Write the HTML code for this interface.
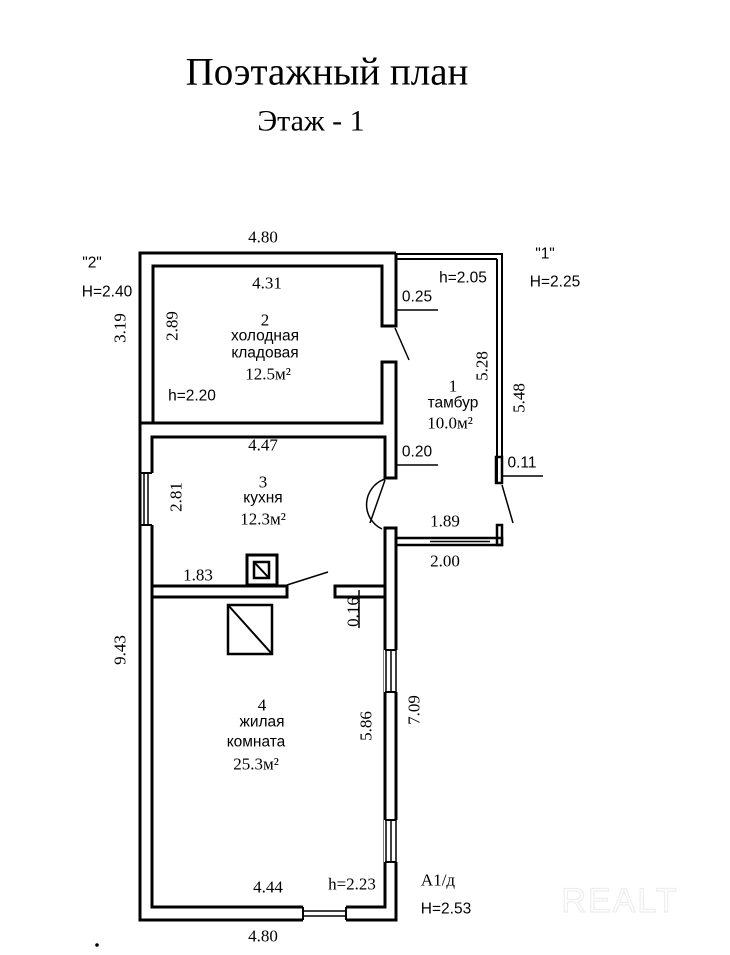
<!DOCTYPE html>
<html><head><meta charset="utf-8"><style>
html,body{margin:0;padding:0;background:#fff;}
svg{display:block;}
text{font-family:"Liberation Serif","DejaVu Serif",serif;font-size:17px;fill:#000;dominant-baseline:central;text-anchor:middle;}
.s{font-family:"Liberation Sans","DejaVu Sans",sans-serif;font-size:15.5px;}
</style></head><body>
<svg width="730" height="955" viewBox="0 0 730 955" xmlns="http://www.w3.org/2000/svg">
<text x="327" y="72" style="font-size:39px">Поэтажный план</text>
<text x="311" y="121" style="font-size:30px">Этаж - 1</text>

<g fill="none" stroke="#000" stroke-width="3">
<polyline points="396,253 140,253 140,920 303,920"/>
<polyline points="346,920 396,920 396,528 385,528 385,907 346,907"/>
<polyline points="303,907 152,907 152,525"/>
<polyline points="152,473 152,437 385,437 385,478 396,478 396,362 382,362 382,423 153,423 153,266 382,266 382,326 396,326 396,253"/>
<line x1="140" y1="423" x2="153" y2="423"/>
<rect x="152" y="586" width="135" height="11" fill="#fff"/>
<rect x="335" y="586" width="50" height="11" fill="#fff"/>
<rect x="247" y="555" width="30" height="30" fill="#fff"/>
<rect x="254" y="562" width="15" height="16" stroke-width="2.5"/>
<line x1="254" y1="562" x2="269" y2="578" stroke-width="2"/>
<rect x="228" y="605" width="44" height="49" stroke-width="2.5"/>
<line x1="228" y1="605" x2="272" y2="654" stroke-width="2"/>
</g>
<g fill="none" stroke="#000" stroke-width="2">
<line x1="396" y1="254" x2="502" y2="254"/>
<line x1="396" y1="259" x2="497" y2="259"/>
<polyline points="502,253 502,483"/>
<line x1="497" y1="259" x2="497" y2="483"/>
<rect x="496" y="457" width="6" height="26" stroke-width="2.5"/>
<rect x="396" y="538" width="106" height="7" stroke-width="2.5"/>
<line x1="430" y1="541.5" x2="490" y2="541.5" stroke-width="1.5"/>
<rect x="497" y="525" width="5" height="20" stroke-width="2.5"/>
<line x1="144" y1="473" x2="144" y2="525" stroke-width="1.5"/>
<line x1="148" y1="473" x2="148" y2="525" stroke-width="1.5"/>
<rect x="384" y="650" width="14" height="42" fill="#fff" stroke="none"/>
<line x1="386" y1="650" x2="386" y2="692" stroke-width="1.5"/>
<line x1="391" y1="650" x2="391" y2="692" stroke-width="1.5"/>
<line x1="396" y1="650" x2="396" y2="692" stroke-width="1.5"/>
<line x1="385" y1="650" x2="396" y2="650"/>
<line x1="385" y1="692" x2="396" y2="692"/>
<rect x="384" y="820" width="14" height="42" fill="#fff" stroke="none"/>
<line x1="386" y1="820" x2="386" y2="862" stroke-width="1.5"/>
<line x1="391" y1="820" x2="391" y2="862" stroke-width="1.5"/>
<line x1="396" y1="820" x2="396" y2="862" stroke-width="1.5"/>
<line x1="385" y1="820" x2="396" y2="820"/>
<line x1="385" y1="862" x2="396" y2="862"/>
<line x1="303" y1="907" x2="303" y2="920"/>
<line x1="346" y1="907" x2="346" y2="920"/>
<line x1="303" y1="911" x2="346" y2="911" stroke-width="1.5"/>
<line x1="303" y1="916" x2="346" y2="916" stroke-width="1.5"/>
<line x1="140" y1="473" x2="152" y2="473"/>
<line x1="140" y1="525" x2="152" y2="525"/>
<line x1="395" y1="328" x2="409" y2="360" stroke-width="1.5"/>
<line x1="502" y1="485" x2="513" y2="523" stroke-width="1.5"/>
<line x1="385" y1="480" x2="370" y2="523" stroke-width="1.5"/>
<path d="M385,479 A27,27 0 0 0 382,529" stroke-width="1.5"/>
<line x1="287" y1="585" x2="328" y2="572" stroke-width="1.5"/>
<line x1="396" y1="310" x2="438" y2="310" stroke-width="1.5"/>
<line x1="396" y1="465" x2="438" y2="465" stroke-width="1.5"/>
<line x1="502" y1="476" x2="543" y2="476" stroke-width="1.5"/>
<line x1="359" y1="590" x2="359" y2="628" stroke-width="1.5"/>
</g>
<circle cx="97" cy="945" r="1.8" fill="#000"/>

<text x="263" y="237">4.80</text>
<text class="s" x="92" y="263">"2"</text>
<text class="s" x="107" y="292">H=2.40</text>
<text transform="translate(120 328) rotate(-90)" x="0" y="0">3.19</text>
<text x="267" y="283">4.31</text>
<text transform="translate(172 326) rotate(-90)" x="0" y="0">2.89</text>
<text x="265" y="320">2</text>
<text class="s" x="265" y="336">холодная</text>
<text class="s" x="265" y="353">кладовая</text>
<text x="268" y="374">12.5м²</text>
<text class="s" x="192" y="396">h=2.20</text>
<text class="s" x="417" y="297">0.25</text>
<text class="s" x="463" y="278">h=2.05</text>
<text class="s" x="545" y="254">"1"</text>
<text class="s" x="555" y="282">H=2.25</text>
<text transform="translate(482 366) rotate(-90)" x="0" y="0">5.28</text>
<text transform="translate(519 398) rotate(-90)" x="0" y="0">5.48</text>
<text x="453" y="386">1</text>
<text class="s" x="453" y="403">тамбур</text>
<text x="450" y="423">10.0м²</text>
<text x="263" y="445">4.47</text>
<text class="s" x="417" y="452">0.20</text>
<text class="s" x="522" y="463">0.11</text>
<text transform="translate(176 497) rotate(-90)" x="0" y="0">2.81</text>
<text x="263" y="482">3</text>
<text class="s" x="263" y="498">кухня</text>
<text x="263" y="519">12.3м²</text>
<text x="445" y="521">1.89</text>
<text x="445" y="561">2.00</text>
<text x="198" y="575">1.83</text>
<text transform="translate(353 612) rotate(-90)" x="0" y="0">0.16</text>
<text transform="translate(120 650) rotate(-90)" x="0" y="0">9.43</text>
<text transform="translate(414 710) rotate(-90)" x="0" y="0">7.09</text>
<text transform="translate(366 726) rotate(-90)" x="0" y="0">5.86</text>
<text x="262" y="705">4</text>
<text class="s" x="262" y="722">жилая</text>
<text class="s" x="256" y="742">комната</text>
<text x="256" y="764">25.3м²</text>
<text x="268" y="887">4.44</text>
<text x="352" y="884">h=2.23</text>
<text x="438" y="880">А1/д</text>
<text class="s" x="446" y="909">H=2.53</text>
<text x="263" y="936">4.80</text>
<text class="s" x="620" y="901" style="font-size:34px;fill:none;stroke:#eee;stroke-width:1.2;letter-spacing:2px">REALT</text>
</svg>
</body></html>
